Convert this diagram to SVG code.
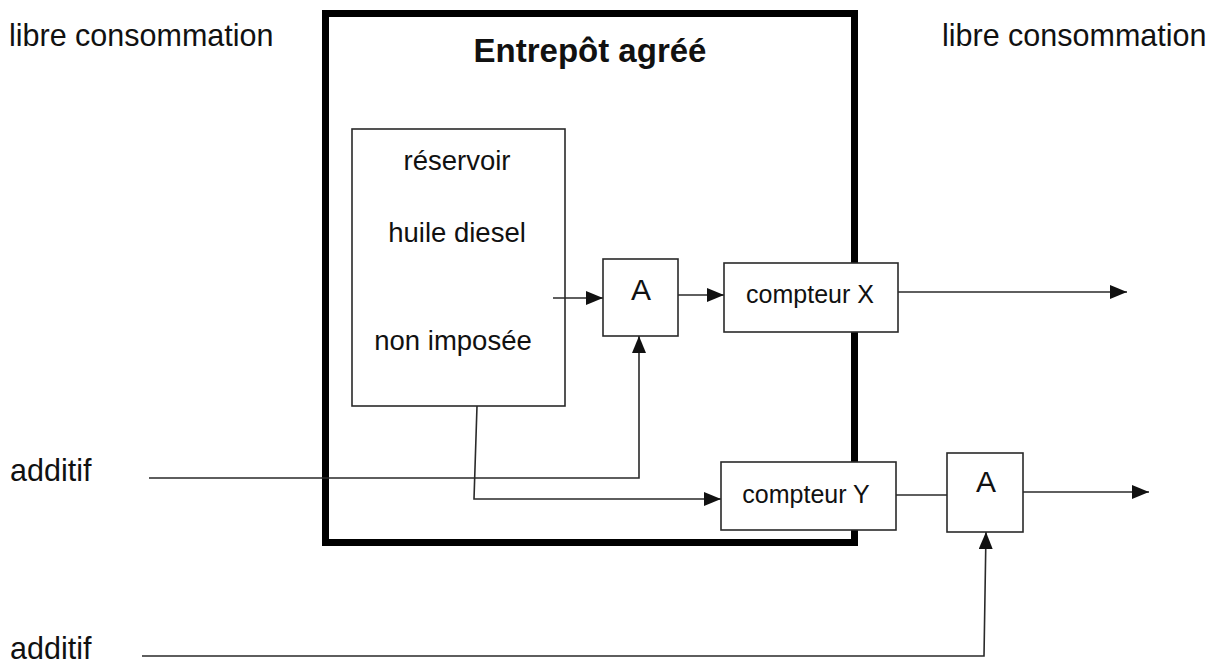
<svg xmlns="http://www.w3.org/2000/svg" width="1211" height="663" viewBox="0 0 1211 663">
<style>
text{font-family:"Liberation Sans",Arial,sans-serif;fill:#111}
.lbl{font-size:30.5px}
.in{font-size:27.5px;text-anchor:middle}
.cpt{font-size:25px;text-anchor:middle}
.a{font-size:30px;text-anchor:middle}
.box{fill:#fff;stroke:#2a2a2a;stroke-width:1.6}
.ln{fill:none;stroke:#2a2a2a;stroke-width:1.6}
.arr{marker-end:url(#ah)}
</style>
<defs>
<marker id="ah" markerUnits="userSpaceOnUse" markerWidth="17" markerHeight="14" refX="17" refY="7" orient="auto">
<path d="M0,0 L17,7 L0,14 z" fill="#111"/>
</marker>
</defs>
<rect x="0" y="0" width="1211" height="663" fill="#fff"/>
<text class="lbl" x="9" y="46">libre consommation</text>
<text class="lbl" x="942" y="46">libre consommation</text>
<text class="lbl" x="10" y="481">additif</text>
<text class="lbl" x="10" y="659">additif</text>
<g id="entrepot">
<rect x="325.5" y="13.5" width="529" height="529" fill="none" stroke="#000" stroke-width="7"/>
<text x="590" y="62" style="font-size:33px;font-weight:bold;text-anchor:middle">Entrepôt agréé</text>
</g>
<g id="reservoir">
<rect class="box" x="352" y="129" width="213" height="277"/>
<text class="in" x="457" y="170">réservoir</text>
<text class="in" x="457" y="242">huile diesel</text>
<text class="in" x="453" y="350">non imposée</text>
</g>
<g id="connectors">
<path class="ln arr" d="M553,298 L603,298"/>
<path class="ln arr" d="M678,295 L724,295"/>
<path class="ln arr" d="M898,292 L1127,292"/>
<path class="ln arr" d="M149,478 L639,478 L639,336"/>
<path class="ln arr" d="M477,406 L474,499 L721,499"/>
<path class="ln" d="M896,495 L947,495"/>
<path class="ln arr" d="M1023,492 L1149,492"/>
<path class="ln arr" d="M142,656 L984,656 L986,532"/>
</g>
<g id="a1">
<rect class="box" x="603" y="259" width="75" height="77"/>
<text class="a" x="641" y="300">A</text>
</g>
<g id="compteurX">
<rect class="box" x="724" y="263" width="174" height="69"/>
<text class="cpt" x="810" y="303">compteur X</text>
</g>
<g id="compteurY">
<rect class="box" x="721" y="462" width="175" height="68"/>
<text class="cpt" x="806" y="503">compteur Y</text>
</g>
<g id="a2">
<rect class="box" x="947" y="453" width="76" height="79"/>
<text class="a" x="986" y="492">A</text>
</g>
</svg>
